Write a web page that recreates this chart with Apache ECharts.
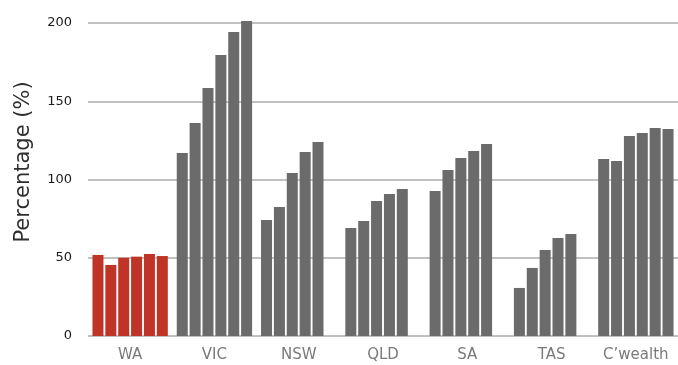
<!DOCTYPE html>
<html>
<head>
<meta charset="utf-8">
<script src="https://cdn.jsdelivr.net/npm/echarts@6/dist/echarts.min.js"></script>
<style>
  html, body { margin: 0; padding: 0; background: #fff; }
  #echart { width: 678px; height: 365px; }
</style>
</head>
<body>
<div id="echart"></div>
<script>
// x轴分类
var categories = ['WA', 'VIC', 'NSW', 'QLD', 'SA', 'TAS', 'C\u2019wealth']

// 每组六根柱子, 从左到右
var bar1 = [51.8, 116.9, 74.1, 69.0, 92.7, 30.7, 113.1]
var bar2 = [45.4, 136.1, 82.4, 73.5, 106.1, 43.5, 111.8]
var bar3 = [50.0, 158.5, 104.2, 86.3, 113.7, 55.0, 127.8]
var bar4 = [50.7, 179.6, 117.6, 90.7, 118.2, 62.6, 129.7]
var bar5 = [52.4, 194.2, 124.0, 93.9, 122.7, 65.2, 132.9]
var bar6 = [51.1, 201.3, null, null, null, null, 132.3]

// y轴刻度
var yTicks = [0, 50, 100, 150, 200]

var barList = [bar1, bar2, bar3, bar4, bar5, bar6]

var option = {
  animation: false,
  grid: {
    left: 88,
    right: -2,
    top: 23,
    bottom: 29
  },
  xAxis: {
    type: 'category',
    data: categories,
    axisTick: { show: false },
    axisLine: { show: false },
    axisLabel: {
      color: '#7a7a7a',
      fontSize: 15,
      fontFamily: 'DejaVu Sans',
      margin: 12,
      interval: 0,
      hideOverlap: false
    }
  },
  yAxis: {
    type: 'value',
    min: yTicks[0],
    max: yTicks[yTicks.length - 1],
    interval: 50,
    name: 'Percentage (%)',
    nameLocation: 'middle',
    nameGap: 54,
    nameTextStyle: {
      color: '#2e2e2e',
      fontSize: 21,
      fontFamily: 'DejaVu Sans',
      padding: [0, 0, 0, 35]
    },
    axisLine: { show: false },
    axisTick: { show: false },
    axisLabel: {
      color: '#1a1a1a',
      fontSize: 13,
      fontFamily: 'DejaVu Sans',
      margin: 16
    },
    // 网格线
    splitLine: {
      lineStyle: { color: '#bfc1c3', width: 2 }
    }
  },
  series: barList.map(function (d, i) {
    return {
      name: 's' + (i + 1),
      type: 'bar',
      data: d,
      barWidth: 11,
      barGap: '17%',
      clip: false,
      itemStyle: {
        color: function (p) {
          return p.dataIndex === 0 ? '#c03427' : '#6b6b6b'
        }
      }
    }
  })
}

var myChart = echarts.init(document.getElementById('echart'))
myChart.setOption(option)
</script>
</body>
</html>
